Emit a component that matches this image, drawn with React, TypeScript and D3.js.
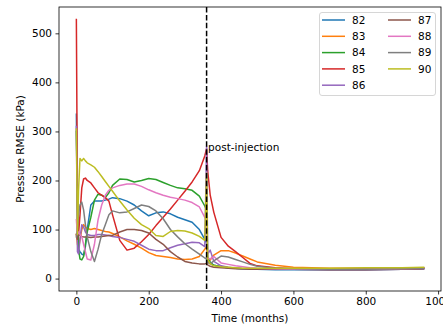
import { useEffect, useRef } from "react";
import * as d3 from "d3";

// time grid (months) shared by every run
const months = [
    0, 3, 6, 10, 15, 20, 25, 30, 40, 50, 60, 70, 80, 90, 100, 120, 140, 160, 180, 200, 220, 240,
    260, 280, 300, 320, 340, 355, 360, 363, 370, 380, 400, 420, 440, 460, 480, 500, 550, 600,
    700, 800, 900, 960,
];

const runNames = ["82", "83", "84", "85", "86", "87", "88", "89", "90"];

const run82 = [335, 120, 60, 55, 50, 48, 65, 100, 150, 158, 158, 158, 160, 162, 165, 163, 158, 150, 138, 128, 134, 136, 132, 125, 120, 115, 100, 80, 72, 40, 33, 27, 24, 22, 21, 20, 20, 19, 18, 18, 18, 18, 19, 20];
const run83 = [90, 70, 60, 80, 100, 110, 105, 102, 100, 102, 100, 98, 96, 95, 92, 85, 77, 70, 62, 53, 47, 45, 43, 40, 39, 40, 45, 60, 65, 32, 38, 48, 57, 57, 52, 46, 40, 34, 27, 23, 21, 21, 21, 22];
const run84 = [300, 150, 60, 40, 38, 45, 70, 95, 125, 160, 172, 170, 165, 175, 190, 203, 202, 197, 200, 204, 202, 196, 190, 185, 183, 180, 168, 148, 140, 45, 32, 27, 24, 22, 21, 20, 20, 19, 19, 19, 19, 19, 20, 21];
const run85 = [528, 150, 90, 130, 185, 203, 205, 200, 195, 185, 175, 170, 165, 158, 130, 78, 58, 62, 75, 90, 108, 125, 142, 160, 178, 197, 220, 250, 265, 220, 170, 135, 84, 66, 55, 43, 31, 26, 22, 20, 19, 19, 20, 21];
const run86 = [310, 55, 50, 80, 110, 105, 95, 90, 88, 88, 90, 90, 89, 88, 86, 84, 80, 76, 68, 60, 57, 57, 63, 68, 71, 74, 73, 65, 270, 50, 58, 35, 26, 23, 21, 20, 20, 19, 19, 19, 18, 18, 19, 20];
const run87 = [90, 80, 95, 88, 86, 85, 85, 85, 84, 85, 85, 86, 87, 88, 88, 95, 100, 100, 98, 93, 80, 70, 55, 44, 35, 32, 30, 30, 31, 28, 25, 23, 22, 21, 20, 20, 19, 19, 19, 19, 18, 18, 19, 20];
const run88 = [120, 90, 95, 90, 85, 70, 55, 40, 38, 70, 120, 150, 170, 180, 185, 190, 193, 193, 188, 181, 175, 170, 166, 163, 160, 155, 146, 125, 120, 42, 40, 45, 32, 29, 26, 24, 22, 21, 20, 19, 19, 19, 20, 21];
const run89 = [85, 100, 130, 150, 156, 140, 110, 85, 55, 35, 60, 90, 110, 130, 138, 134, 136, 143, 150, 147, 138, 122, 100, 85, 71, 60, 50, 42, 40, 33, 30, 36, 46, 44, 39, 34, 29, 25, 21, 20, 19, 19, 20, 21];
const run90 = [305, 90, 180, 245, 240, 245, 240, 236, 232, 227, 218, 208, 198, 188, 178, 158, 140, 123, 110, 102, 88, 86, 96, 98, 97, 93, 86, 78, 215, 40, 30, 26, 24, 23, 22, 21, 21, 21, 21, 21, 21, 22, 22, 23];

const runs = [run82, run83, run84, run85, run86, run87, run88, run89, run90];

const xTicks = [0, 200, 400, 600, 800, 1000];
const yTicks = [0, 100, 200, 300, 400, 500];
const injectionEnd = 360;

const colors = ["#1f77b4", "#ff7f0e", "#2ca02c", "#d62728", "#9467bd", "#8c564b", "#e377c2", "#7f7f7f", "#bcbd22"];

export default function App() {
    const svgRef = useRef<SVGSVGElement>(null);
    const width = 443;
    const height = 324;

    useEffect(() => {
        if (!svgRef.current) return;
        const svg = d3.select(svgRef.current);
        svg.selectAll("*").remove();

        const left = 59, right = 441, top = 7, bottom = 291;
        const font = "DejaVu Sans, sans-serif";

        const x = d3.scaleLinear().domain([-48, 1008]).range([left, right]);
        const y = d3.scaleLinear().domain([-25.3, 553.7]).range([bottom, top]);

        svg.append("rect").attr("width", width).attr("height", height).attr("fill", "#fff");

        const plot = svg.append("g");
        plot.append("clipPath").attr("id", "clip")
            .append("rect").attr("x", left).attr("y", top).attr("width", right - left).attr("height", bottom - top);

        const line = d3.line<number>()
            .x((_, i) => x(months[i]))
            .y((d) => y(d));

        const lines = plot.append("g").attr("clip-path", "url(#clip)");
        runs.forEach((vals, k) => {
            lines.append("path")
                .attr("d", line(vals) as string)
                .attr("fill", "none")
                .attr("stroke", colors[k])
                .attr("stroke-width", 1.5)
                .attr("stroke-linejoin", "round")
                .attr("stroke-linecap", "square");
        });

        // end of injection marker
        lines.append("line")
            .attr("x1", x(injectionEnd)).attr("x2", x(injectionEnd))
            .attr("y1", top).attr("y2", bottom)
            .attr("stroke", "#000")
            .attr("stroke-width", 1.5)
            .attr("stroke-dasharray", "5.5,2.4");

        svg.append("text")
            .attr("x", x(injectionEnd) + 1.5)
            .attr("y", y(260))
            .style("font-family", font)
            .style("font-size", "10.5px")
            .style("fill", "#000")
            .text("post-injection");

        // axes
        const xAxis = d3.axisBottom(x).tickValues(xTicks).tickSize(3.5).tickPadding(3.5).tickFormat(d3.format("d"));
        const yAxis = d3.axisLeft(y).tickValues(yTicks).tickSize(3.5).tickPadding(3.5).tickFormat(d3.format("d"));

        const gx = svg.append("g").attr("transform", `translate(0,${bottom})`).call(xAxis);
        const gy = svg.append("g").attr("transform", `translate(${left},0)`).call(yAxis);
        [gx, gy].forEach((g) => {
            g.select(".domain").remove();
            g.selectAll("line").attr("stroke", "#000").attr("stroke-width", 0.8);
            g.selectAll("text").style("font-family", font).style("font-size", "10.5px").style("fill", "#000");
        });

        svg.append("rect")
            .attr("x", left).attr("y", top)
            .attr("width", right - left).attr("height", bottom - top)
            .attr("fill", "none").attr("stroke", "#000").attr("stroke-width", 0.8);

        svg.append("text")
            .attr("x", (left + right) / 2)
            .attr("y", 322)
            .attr("text-anchor", "middle")
            .style("font-family", font)
            .style("font-size", "10.5px")
            .text("Time (months)");

        svg.append("text")
            .attr("transform", `translate(24,${(top + bottom) / 2}) rotate(-90)`)
            .attr("text-anchor", "middle")
            .style("font-family", font)
            .style("font-size", "10.5px")
            .text("Pressure RMSE (kPa)");

        // legend, two columns
        const lg = svg.append("g");
        lg.append("rect")
            .attr("x", 319.5).attr("y", 12.5)
            .attr("width", 116).attr("height", 83)
            .attr("rx", 2.5)
            .attr("fill", "#fff").attr("fill-opacity", 0.8)
            .attr("stroke", "#ccc").attr("stroke-width", 0.8);
        runNames.forEach((name, k) => {
            const col = k < 5 ? 0 : 1;
            const row = k < 5 ? k : k - 5;
            const lx = col === 0 ? 322 : 388;
            const ly = 20 + row * 16.3;
            lg.append("line")
                .attr("x1", lx).attr("x2", lx + 23)
                .attr("y1", ly).attr("y2", ly)
                .attr("stroke", colors[k]).attr("stroke-width", 1.5);
            lg.append("text")
                .attr("x", lx + 30).attr("y", ly + 3.8)
                .style("font-family", font)
                .style("font-size", "10.5px")
                .text(name);
        });
    }, []);

    return (
        <svg
            ref={svgRef}
            width={width}
            height={height}
            viewBox={`0 0 ${width} ${height}`}
            style={{ position: "absolute", left: 0, top: 0 }}
        />
    );
}
